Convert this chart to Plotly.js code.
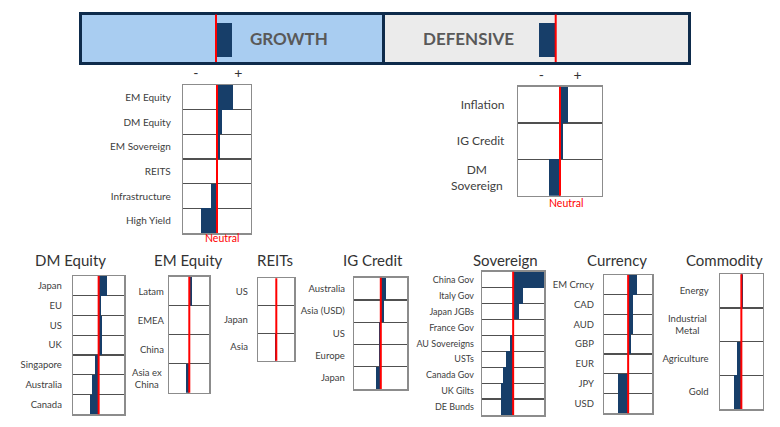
<!DOCTYPE html>
<html>
<head>
<meta charset="utf-8">
<script src="https://cdn.plot.ly/plotly-3.0.1.min.js"></script>
<style>html,body{margin:0;padding:0;background:#fff;}#chart{width:780px;height:427px;}</style>
</head>
<body>
<div id="chart"></div>
<script>
// ---------- DATA ----------
const bannerLabels = ['GROWTH', 'DEFENSIVE'];
const bannerVals = [0.47, -0.48];

const growthCats = ['EM Equity', 'DM Equity', 'EM Sovereign', 'REITS', 'Infrastructure', 'High Yield'];
const growthVals = [0.47, 0.15, 0.08, 0, -0.18, -0.47];

const defCats = ['Inflation', 'IG Credit', 'DM<br>Sovereign'];
const defVals = [0.19, 0.065, -0.26];

const dmEqCats = ['Japan', 'EU', 'US', 'UK', 'Singapore', 'Australia', 'Canada'];
const dmEqVals = [0.33, 0.10, 0.12, 0.14, -0.13, -0.26, -0.33];

const emEqCats = ['Latam', 'EMEA', 'China', 'Asia ex<br>China'];
const emEqVals = [0.12, 0.03, 0, -0.17];

const reitCats = ['US', 'Japan', 'Asia'];
const reitVals = [0, 0, -0.09];

const igCats = ['Australia', 'Asia (USD)', 'US', 'Europe', 'Japan'];
const igVals = [0.20, 0.125, -0.05, -0.05, -0.19];

const sovCats = ['China Gov', 'Italy Gov', 'Japan JGBs', 'France Gov', 'AU Sovereigns', 'USTs', 'Canada Gov', 'UK Gilts', 'DE Bunds'];
const sovVals = [1.0, 0.32, 0.20, 0, -0.11, -0.23, -0.33, -0.38, -0.38];

const fxCats = ['EM Crncy', 'CAD', 'AUD', 'GBP', 'EUR', 'JPY', 'USD'];
const fxVals = [0.39, 0.22, 0.22, 0.14, 0, -0.44, -0.44];

const comCats = ['Energy', 'Industrial<br>Metal', 'Agriculture', 'Gold'];
const comVals = [0.08, 0, -0.20, -0.34];

const signLabels = ['-', '+'];
const neutralLabel = 'Neutral';

// ---------- LAYOUT HELPERS ----------
const W = 780, H = 427;
const BAR = '#173e69';
const RED = '#ff0000';
const BOX = '#8c8c8c';
const GRID = '#505050';
const NAVY = '#0e2b4b';
const FONT = 'Lato, "Open Sans", sans-serif';
function dx(l, r) { return [l / W, r / W]; }
function dy(t, b) { return [1 - b / H, 1 - t / H]; }
function ax(i, p) { return i === 1 ? p + 'axis' : p + 'axis' + i; }
function rf(i, p) { return i === 1 ? p : p + i; }

const traces = [];
const layout = {
  width: W, height: H,
  margin: {l: 0, r: 0, t: 0, b: 0},
  paper_bgcolor: '#ffffff', plot_bgcolor: '#ffffff',
  showlegend: false, bargap: 0,
  font: {family: FONT, color: '#404040'},
  shapes: [], annotations: []
};

function redLine(i) {
  layout.shapes.push({type: 'line', xref: rf(i, 'x'), yref: rf(i, 'y') + ' domain',
    x0: 0, x1: 0, y0: 0, y1: 1, line: {color: RED, width: 2}, layer: 'above'});
}

// ---------- BANNER ----------
const banners = [
  {box: [82, 385, 14.5, 62], range: [-3.941, 4.971], bg: '#a9cdf1', mirrorY: false, text: [289, 39]},
  {box: [385, 688, 14.5, 62], range: [-5.021, 3.891], bg: '#ebebeb', mirrorY: true, text: [468.3, 39]}
];
banners.forEach((b, k) => {
  const i = k + 1;
  layout[ax(i, 'x')] = {domain: dx(b.box[0], b.box[1]), range: b.range, showgrid: false, zeroline: false,
    showticklabels: false, showline: true, mirror: true, linecolor: NAVY, linewidth: 3,
    anchor: rf(i, 'y'), fixedrange: true};
  layout[ax(i, 'y')] = {domain: dy(b.box[2], b.box[3]), range: [-0.463, 0.537], showgrid: false, zeroline: false,
    showticklabels: false, showline: true, mirror: b.mirrorY, linecolor: NAVY, linewidth: 3,
    anchor: rf(i, 'x'), fixedrange: true};
  layout.shapes.push({type: 'rect', xref: rf(i, 'x') + ' domain', yref: rf(i, 'y') + ' domain',
    x0: 0, x1: 1, y0: 0, y1: 1, fillcolor: b.bg, line: {width: 0}, layer: 'below'});
  traces.push({type: 'bar', orientation: 'h', x: [bannerVals[k]], y: [0], width: 0.716,
    marker: {color: BAR, line: {width: 0}}, xaxis: rf(i, 'x'), yaxis: rf(i, 'y'), hoverinfo: 'skip'});
  redLine(i);
  layout.annotations.push({xref: 'paper', yref: 'paper', x: b.text[0] / W, y: 1 - b.text[1] / H,
    text: bannerLabels[k], showarrow: false, xanchor: 'center', yanchor: 'middle',
    font: {family: FONT, size: 17, color: '#595959', weight: 'bold'}});
});

// ---------- PANELS ----------
const panels = [
  {cats: growthCats, vals: growthVals, box: [183.3, 250.7, 85, 233], fs: 10, stand: 9, signs: [-0.63, 0.63], neutral: [221.7, 238]},
  {cats: defCats, vals: defVals, box: [518.3, 601.7, 86.7, 195.7], fs: 12, stand: 10, signs: [-0.45, 0.42], neutral: [566, 203]},
  {title: 'DM Equity', tpos: [70.7, 260], cats: dmEqCats, vals: dmEqVals, box: [73.3, 124, 276, 414.3], fs: 9.5, stand: 8},
  {title: 'EM Equity', tpos: [188.3, 260], cats: emEqCats, vals: emEqVals, box: [169.3, 209.3, 276.7, 392.7], fs: 9.5, stand: 2},
  {title: 'REITs', tpos: [275, 260], cats: reitCats, vals: reitVals, box: [258.3, 294.3, 278.3, 360.7], fs: 9.5, stand: 7},
  {title: 'IG Credit', tpos: [372.7, 260], cats: igCats, vals: igVals, box: [354.3, 407.3, 277.7, 389], fs: 9.5, stand: 6},
  {title: 'Sovereign', tpos: [505, 260], cats: sovCats, vals: sovVals, box: [482.3, 544, 271.7, 415], fs: 9, stand: 5},
  {title: 'Currency', tpos: [617, 260], cats: fxCats, vals: fxVals, box: [604.3, 652, 275, 413.3], fs: 9.5, stand: 7},
  {title: 'Commodity', tpos: [724.7, 260], cats: comCats, vals: comVals, box: [720, 762.7, 274.3, 409], fs: 9.5, stand: 8}
];

panels.forEach((p, k) => {
  const i = k + 3;
  const n = p.cats.length;
  const xa = {domain: dx(p.box[0], p.box[1]), range: [-1, 1], showgrid: false, zeroline: false,
    showline: true, mirror: true, linecolor: BOX, linewidth: 1.5, ticks: '',
    anchor: rf(i, 'y'), fixedrange: true, showticklabels: false};
  if (p.signs) {
    Object.assign(xa, {showticklabels: true, side: 'top', tickmode: 'array', tickvals: p.signs,
      ticktext: signLabels, tickfont: {size: 14, color: '#333333'}});
  }
  layout[ax(i, 'x')] = xa;
  layout[ax(i, 'y')] = {domain: dy(p.box[2], p.box[3]), type: 'category', categoryorder: 'array',
    categoryarray: p.cats, range: [n - 0.5, -0.5], tickson: 'boundaries',
    tickmode: 'array', tickvals: p.cats,
    ticktext: p.cats.map(c => c.indexOf('<br>') >= 0 ? '' : c),
    showgrid: true, gridcolor: GRID, gridwidth: 1.2, zeroline: false,
    showline: true, mirror: true, linecolor: BOX, linewidth: 1.5, ticks: '',
    ticklabelstandoff: p.stand, tickfont: {size: p.fs, color: '#404040'},
    anchor: rf(i, 'x'), fixedrange: true};
  // multi-line labels: centred text block, right-aligned to the axis
  p.cats.forEach(c => {
    if (c.indexOf('<br>') >= 0) {
      layout.annotations.push({xref: 'paper', yref: rf(i, 'y'), x: (p.box[0] - p.stand - 3) / W, y: c,
        text: c, showarrow: false, xanchor: 'right', yanchor: 'middle', align: 'center',
        font: {family: FONT, size: p.fs, color: '#404040'}});
    }
  });
  traces.push({type: 'bar', orientation: 'h', x: p.vals, y: p.cats,
    marker: {color: BAR, line: {width: 0}}, xaxis: rf(i, 'x'), yaxis: rf(i, 'y'), hoverinfo: 'skip'});
  redLine(i);
  if (p.title) {
    layout.annotations.push({xref: 'paper', yref: 'paper', x: p.tpos[0] / W, y: 1 - p.tpos[1] / H,
      text: p.title, showarrow: false, xanchor: 'center', yanchor: 'middle',
      font: {family: FONT, size: 15, color: '#333333'}});
  }
  if (p.neutral) {
    layout.annotations.push({xref: 'paper', yref: 'paper', x: p.neutral[0] / W, y: 1 - p.neutral[1] / H,
      text: neutralLabel, showarrow: false, xanchor: 'center', yanchor: 'middle',
      font: {family: FONT, size: 10.5, color: RED}});
  }
});

Plotly.newPlot('chart', traces, layout, {displayModeBar: false, staticPlot: true});
</script>
</body>
</html>
